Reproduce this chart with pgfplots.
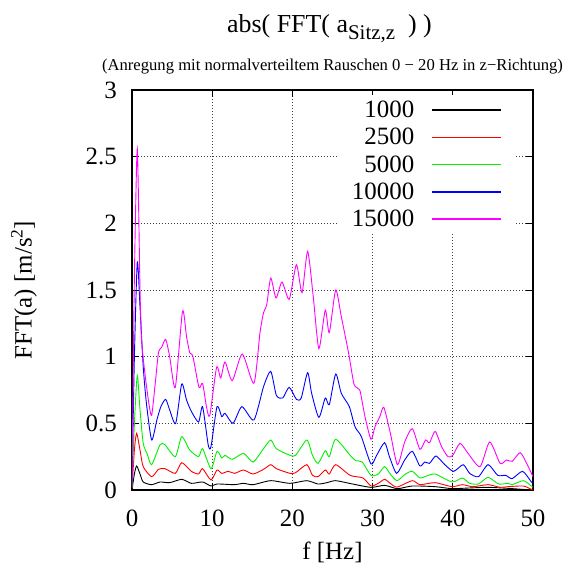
\documentclass[border=0pt]{standalone}
\usepackage{fontspec}
\setmainfont{Liberation Serif}
\usepackage{pgfplots}
\pgfplotsset{compat=1.18}
\definecolor{gpblack}{RGB}{0,0,0}
\definecolor{gpred}{RGB}{255,0,0}
\definecolor{gpgreen}{RGB}{0,240,0}
\definecolor{gpblue}{RGB}{0,0,255}
\definecolor{gpmag}{RGB}{255,0,255}
\newcommand{\bigfont}{\fontsize{25}{25}\selectfont}

\begin{document}
\begin{tikzpicture}
\begin{axis}[
  name=ax,
  scale only axis,
  width=401bp, height=400bp,
  xmin=0, xmax=50, ymin=0, ymax=3,
  xtick={0,10,20,30,40,50},
  ytick={0,0.5,1,1.5,2,2.5,3},
  /pgf/number format/assume math mode=true,
  tick label style={font=\bigfont, inner sep=0pt},
  xticklabel style={anchor=center, yshift=-28bp},
  yticklabel style={anchor=east, xshift=-15bp},
  major tick length=7bp,
  tick style={black, line width=0.8bp},
  axis line style={line width=1.2bp},
  grid=major,
  major grid style={black!75, line width=0.8bp, dash pattern=on 0.9bp off 2.1bp},
  xlabel={f [Hz]},
  ylabel={FFT(a) [m/s\textsuperscript{2}]},
  label style={font=\bigfont},
  xlabel style={at={(axis description cs:0.5,0)}, anchor=center, yshift=-62bp},
  ylabel style={at={(axis description cs:0,0.5)}, anchor=center, yshift=108bp},
  legend plot pos=right,
  legend cell align=right,
  legend style={at={(axis cs:47.76,2.962)}, anchor=north east, draw=none,
    fill=white, font=\bigfont, row sep=9.1bp, column sep=17bp,
    inner xsep=13bp, inner ysep=6bp, nodes={inner sep=0pt}},
  every axis plot/.append style={line width=0.9bp, smooth, tension=0.4},
]
\addlegendimage{legend image code/.code={\draw[gpblack,line width=1.6bp] (0bp,0bp) -- (69bp,0bp);}}
\addlegendimage{legend image code/.code={\draw[gpred,line width=1.6bp] (0bp,0bp) -- (69bp,0bp);}}
\addlegendimage{legend image code/.code={\draw[gpgreen,line width=1.6bp] (0bp,0bp) -- (69bp,0bp);}}
\addlegendimage{legend image code/.code={\draw[gpblue,line width=1.6bp] (0bp,0bp) -- (69bp,0bp);}}
\addlegendimage{legend image code/.code={\draw[gpmag,line width=1.6bp] (0bp,0bp) -- (69bp,0bp);}}
\legend{1000,2500,5000,10000,15000}
\addplot[gpblack] coordinates {
(0,0.0) (0.3,0.12) (0.58,0.18) (1.0,0.12) (1.4,0.06) (2.45,0.04) (3.5,0.06)
(4.7,0.055) (6.2,0.08) (7.4,0.05) (8.8,0.06) (9.85,0.03) (10.6,0.045)
(12.8,0.04) (13.9,0.05) (15.1,0.04) (17.3,0.07) (19.7,0.05) (21.8,0.07)
(23.2,0.045) (24.3,0.055) (25.4,0.07) (27.5,0.045) (29.8,0.02) (31.5,0.035)
(33.1,0.01) (34.95,0.03) (37.8,0.025) (39.9,0.01) (42,0.015) (44.4,0.02)
(47,0.012) (49.8,0.0) (50,0.0)};
\addplot[gpred] coordinates {
(0,0.01) (0.3,0.3) (0.58,0.425) (1.0,0.3) (1.4,0.175) (2.45,0.10) (3.3,0.155)
(4.1,0.16) (5.4,0.125) (6.2,0.205) (7.4,0.14) (8.3,0.12) (8.8,0.16)
(9.85,0.075) (10.6,0.15) (11.2,0.125) (12.0,0.14) (12.8,0.125) (13.9,0.15)
(15.1,0.12) (16.4,0.155) (17.3,0.19) (18.0,0.16) (19.7,0.125) (20.4,0.13)
(21.8,0.19) (22.5,0.11) (23.2,0.1) (24.1,0.15) (24.6,0.12) (25.4,0.19)
(27.2,0.11) (28.8,0.09) (29.8,0.03) (30.7,0.05) (31.5,0.08) (32.2,0.05)
(33.05,0.022) (34.95,0.07) (35.9,0.04) (37.8,0.055) (39.9,0.025) (41.2,0.04)
(42.5,0.025) (44.4,0.04) (45.9,0.02) (46.9,0.025) (48.8,0.03) (49.8,0.005)
(50,0.0)};
\addplot[gpgreen] coordinates {
(0,0.02) (0.3,0.5) (0.66,0.86) (1.0,0.6) (1.4,0.35) (1.9,0.27) (2.45,0.19)
(3.5,0.34) (4.1,0.34) (5.4,0.25) (6.2,0.40) (7.2,0.30) (8.3,0.25) (8.8,0.31)
(9.85,0.16) (10.6,0.29) (11.2,0.24) (11.6,0.26) (12.5,0.23) (13.9,0.275)
(15.1,0.21) (16.4,0.31) (17.3,0.375) (18.0,0.31) (19.7,0.26) (20.4,0.26)
(21.8,0.375) (22.5,0.26) (23.2,0.2) (24.1,0.295) (24.6,0.25) (25.4,0.38)
(27.2,0.26) (27.9,0.22) (28.7,0.21) (29.8,0.11) (30.7,0.12) (31.5,0.175)
(32.2,0.12) (33.05,0.07) (34.1,0.12) (34.95,0.14) (35.9,0.09) (36.5,0.1)
(37.8,0.12) (39.9,0.06) (41.2,0.09) (42.1,0.05) (43.2,0.045) (44.4,0.095)
(45.7,0.045) (46.9,0.05) (47.4,0.04) (48.8,0.07) (49.8,0.03) (50,0.02)};
\addplot[gpblue] coordinates {
(0,0.03) (0.3,1.0) (0.66,1.71) (1.0,1.375) (1.4,0.925) (1.8,0.65)
(2.45,0.375) (3.1,0.525) (3.6,0.625) (4.2,0.68) (4.7,0.6) (5.45,0.50)
(6.2,0.795) (6.8,0.675) (7.4,0.59) (8.3,0.51) (8.8,0.625) (9.5,0.34)
(9.85,0.325) (10.6,0.625) (11.2,0.55) (11.6,0.575) (12.6,0.5) (13.7,0.625)
(15.2,0.525) (16.4,0.775) (17.3,0.89) (18.0,0.71) (18.8,0.69) (19.6,0.77)
(20.5,0.68) (21.1,0.69) (21.9,0.88) (22.4,0.725) (23.3,0.545) (24.1,0.69)
(24.6,0.64) (25.4,0.87) (26.1,0.725) (27.1,0.625) (27.8,0.475) (28.6,0.40)
(29.8,0.195) (30.5,0.26) (31.5,0.355) (32.1,0.25) (33.0,0.125) (34.0,0.225)
(34.95,0.29) (35.9,0.18) (36.5,0.21) (37.1,0.2) (37.9,0.255) (39.0,0.19)
(40.1,0.14) (41.3,0.19) (42.1,0.125) (43.2,0.1) (44.4,0.19) (45.6,0.11)
(46.6,0.11) (47.4,0.085) (48.7,0.14) (49.8,0.06) (50,0.05)};
\addplot[gpmag] coordinates {
(0,0.05) (0.3,1.6) (0.66,2.56) (1.0,1.5) (1.2,1.12) (1.6,0.88) (2.1,0.65)
(2.45,0.56) (2.9,0.8) (3.3,1.03) (3.7,1.07) (4.2,1.13) (4.7,1.0) (5.4,0.77)
(6.3,1.34) (6.8,1.15) (7.2,1.03) (7.6,1.0) (8.35,0.77) (8.8,0.80) (9.3,0.62)
(9.7,0.56) (10.55,0.92) (11.06,0.84) (11.6,0.96) (12.5,0.82) (13.75,1.02)
(15.2,0.80) (15.96,1.18) (16.4,1.33) (16.8,1.39) (17.3,1.59) (17.96,1.44)
(18.7,1.56) (19.6,1.43) (20.5,1.69) (21.2,1.48) (21.9,1.79) (22.6,1.45)
(23.3,1.06) (24.1,1.35) (24.6,1.18) (25.4,1.50) (26.1,1.30) (27.0,1.03)
(27.7,0.79) (28.4,0.75) (29.05,0.55) (29.8,0.38) (30.3,0.475) (30.9,0.55)
(31.4,0.62) (32.2,0.43) (33.1,0.19) (34.0,0.36) (34.95,0.46) (35.9,0.305)
(36.6,0.375) (37.1,0.355) (37.8,0.44) (38.6,0.325) (39.4,0.25) (40.0,0.26)
(40.9,0.35) (41.9,0.275) (43.4,0.175) (44.6,0.36) (45.9,0.2) (46.7,0.225)
(47.4,0.215) (48.4,0.28) (49.2,0.2) (50,0.1)};
\end{axis}
\node[anchor=base, font=\fontsize{26}{26}\selectfont] at ([xshift=-3bp,yshift=57bp]ax.north)
  {abs( FFT( a\raisebox{-7bp}{\fontsize{21}{21}\selectfont Sitz,z}\ \ ) )};
\node[anchor=base, font=\fontsize{16.7}{16.7}\selectfont] at ([yshift=19.3bp]ax.north)
  {(Anregung mit normalverteiltem Rauschen 0 − 20 Hz in z−Richtung)};
\pgfresetboundingbox
\useasboundingbox ([xshift=-132bp,yshift=-77bp]ax.south west)
  rectangle ([xshift=30bp,yshift=90bp]ax.north east);
\end{tikzpicture}
\end{document}
